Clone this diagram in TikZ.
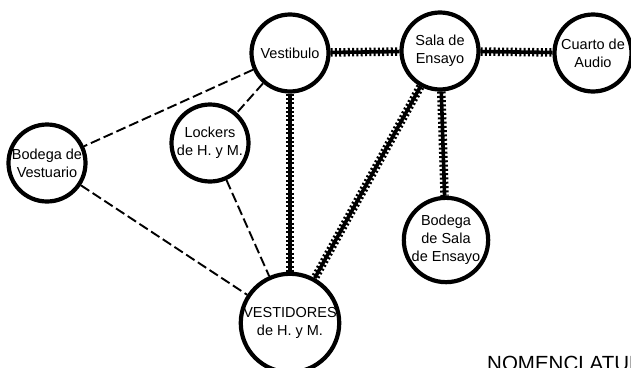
\documentclass[tikz,border=0pt]{standalone}
\usepackage{fontspec}
\setmainfont{Liberation Sans}
\usetikzlibrary{backgrounds}
\tikzset{
  room/.style={circle, draw=black, line width=4.2pt, fill=white, minimum size=77pt, inner sep=0pt,
    align=center, font=\fontsize{14.5}{18}\selectfont},
  dashlink/.style={line width=1.9pt, dash pattern=on 10pt off 4pt},
  hatchcore/.style={line width=3.6pt},
  hatchticks/.style={line width=8.5pt, dash pattern=on 2pt off 2.3pt},
}
\begin{document}
\begin{tikzpicture}[x=1pt,y=-1pt]
\useasboundingbox (0,0) rectangle (631,367);
\clip (0,0) rectangle (631,367);
\node[room] (vest) at (290,53) {Vestibulo};
\node[room] (sala) at (440,51) {Sala de\\Ensayo};
\node[room] (cuarto) at (593,53) {Cuarto de\\Audio};
\node[room] (bodv) at (47,163) {Bodega de\\Vestuario};
\node[room] (lock) at (210,143) {Lockers\\de H. y M.};
\node[room] (bods) at (446,240) {Bodega\\de Sala\\de Ensayo};
\node[room] (vesd) at (290,323) {VESTIDORES\\de H. y M.};
\node[anchor=north west, inner sep=0pt, font=\fontsize{20.5}{22}\selectfont] (nom) at (487,356) {NOMENCLATURA};
\begin{pgfonlayer}{background}
\foreach \a/\b in {vest/sala, sala/cuarto, vest/vesd, sala/vesd, sala/bods}{
  \draw[hatchcore] (\a) -- (\b);
  \draw[hatchticks] (\a) -- (\b);
}
\foreach \a/\b in {vest/bodv, vest/lock, lock/vesd, bodv/vesd}{
  \draw[dashlink] (\a) -- (\b);
}
\end{pgfonlayer}
\end{tikzpicture}
\end{document}
